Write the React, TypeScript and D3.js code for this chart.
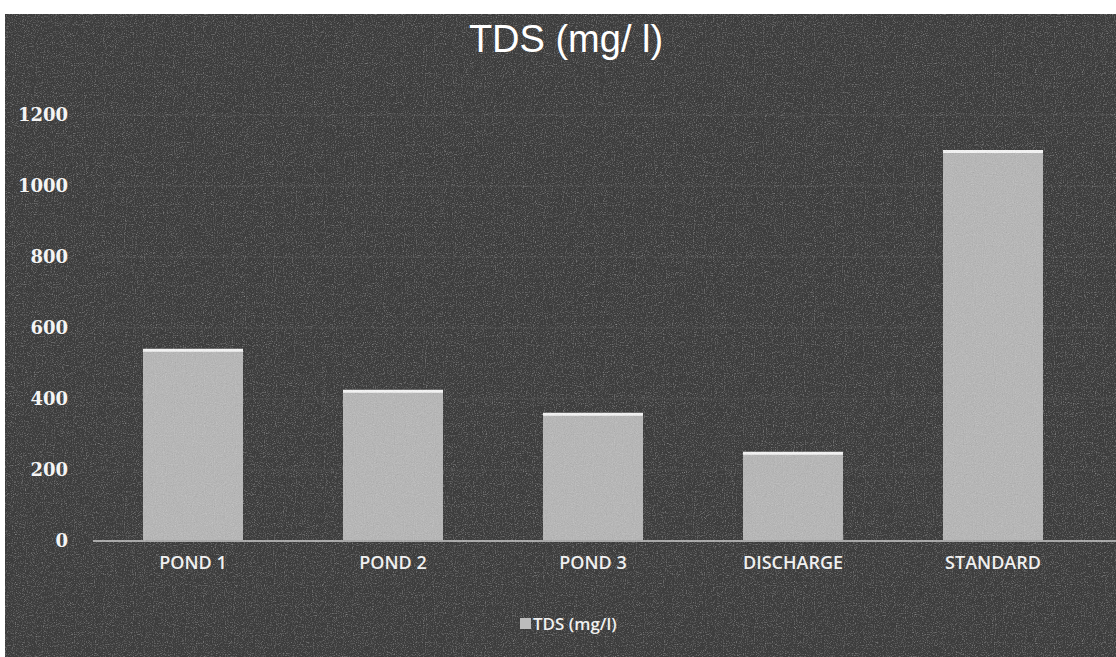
import * as d3 from 'd3';
import React from 'react';

const categories = ['POND 1', 'POND 2', 'POND 3', 'DISCHARGE', 'STANDARD'];
const tdsValues = [540, 425, 360, 250, 1100];
const yTicks = [0, 200, 400, 600, 800, 1000, 1200];
const chartTitle = 'TDS (mg/ l)';
const legendLabel = 'TDS (mg/l)';

export default function App() {
    const W = 1116;
    const H = 657;
    const plot = { left: 93, right: 1093, top: 115, bottom: 541 };

    const x = d3.scaleBand<string>()
        .domain(categories)
        .range([plot.left, plot.right])
        .paddingInner(0.5)
        .paddingOuter(0.25);

    const y = d3.scaleLinear()
        .domain([0, 1200])
        .range([plot.bottom, plot.top]);

    return (
        <div style={{ position: 'absolute', left: 0, top: 0 }}>
            <svg width={W} height={H} style={{ display: 'block' }}>
                <defs>
                    <filter id="grain" x="0" y="0" width="100%" height="100%">
                        <feTurbulence type="fractalNoise" baseFrequency="0.9" numOctaves={2} seed={3} result="n" />
                        <feColorMatrix in="n" type="saturate" values="0" result="g" />
                        <feComponentTransfer in="g" result="g2">
                            <feFuncA type="linear" slope={0.45} />
                        </feComponentTransfer>
                        <feBlend in="SourceGraphic" in2="g2" mode="overlay" />
                    </filter>
                </defs>
                <rect width={W} height={H} fill="#ffffff" />
                <g filter="url(#grain)">
                    <rect x={5} y={14} width={W - 5} height={H - 14} fill="#3e3e3e" />

                    {yTicks.filter((t) => t > 0).map((t) => (
                        <line key={t} x1={plot.left} x2={W} y1={y(t)} y2={y(t)}
                            stroke="#4a4a4a" strokeWidth={1} />
                    ))}

                    {categories.map((c, i) => (
                        <g key={c}>
                            <rect x={x(c)} y={y(tdsValues[i])} width={x.bandwidth()}
                                height={y(0) - y(tdsValues[i])} fill="#b6b6b6" />
                            <line x1={x(c)} x2={(x(c) ?? 0) + x.bandwidth()}
                                y1={y(tdsValues[i]) + 1} y2={y(tdsValues[i]) + 1}
                                stroke="#f2f2f2" strokeWidth={3} />
                        </g>
                    ))}

                    <line x1={plot.left} x2={W} y1={y(0)} y2={y(0)} stroke="#a8a8a8" strokeWidth={2} />
                </g>

                {yTicks.map((t) => (
                    <text key={t} x={plot.left - 25} y={y(t)} dy="0.35em" textAnchor="end"
                        fontFamily="'DejaVu Serif', serif" fontSize={18} fontWeight={700} fill="#f4f4f4">
                        {t}
                    </text>
                ))}

                {categories.map((c) => (
                    <text key={c} x={(x(c) ?? 0) + x.bandwidth() / 2} y={569} textAnchor="middle"
                        fontFamily="'Open Sans', sans-serif" fontSize={18} fontWeight={600} fill="#f0f0f0">
                        {c}
                    </text>
                ))}

                <text x={566} y={52} textAnchor="middle" fontFamily="'Liberation Sans', Arial, sans-serif"
                    fontSize={38} fill="#ffffff">
                    {chartTitle}
                </text>

                <rect x={520} y={618} width={11} height={11} fill="#bcbcbc" />
                <text x={533} y={630} fontFamily="'Open Sans', sans-serif" fontSize={17} fontWeight={600} fill="#f0f0f0">
                    {legendLabel}
                </text>
            </svg>
        </div>
    );
}
